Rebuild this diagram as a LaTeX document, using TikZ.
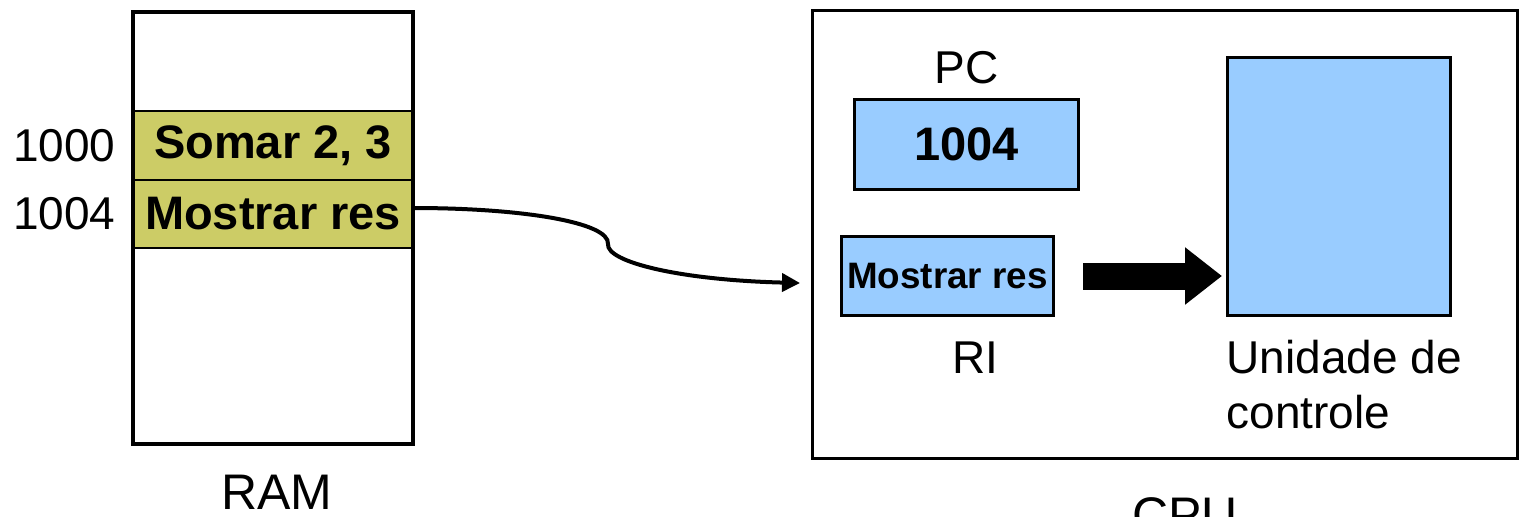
\documentclass[tikz,border=0pt]{standalone}
\usepackage{fontspec}
\setmainfont{Liberation Sans}
\usetikzlibrary{shapes,arrows,arrows.meta,positioning}

\definecolor{ramcell}{HTML}{CCCC66}
\definecolor{regblue}{HTML}{99CCFF}
\newcommand{\lblfont}{\fontsize{23}{27.5}\selectfont}
\newcommand{\titlefont}{\fontsize{25}{30}\selectfont}
\newcommand{\cellfont}{\bfseries\fontsize{23.5}{28}\selectfont}
\newcommand{\rifont}{\bfseries\fontsize{18.4}{22}\selectfont}

\begin{document}
\begin{tikzpicture}[x=0.5pt,y=-0.5pt,semithick]
\tikzstyle{cell}=[draw=black,line width=1pt,fill=ramcell,minimum width=140pt,inner sep=0pt,font=\cellfont]
\tikzstyle{reg}=[draw=black,line width=1.5pt,fill=regblue,inner sep=0pt]
\tikzstyle{lbl}=[inner sep=0pt,font=\lblfont]

\useasboundingbox (0,0) rectangle (1524,516);

% memoria
\node[cell,minimum height=34.5pt] (c1000) at (273,145.5) {Somar 2, 3};
\node[cell,minimum height=34pt]   (c1004) at (273,214)   {Mostrar res};
\node[draw,line width=2pt,minimum width=140pt,minimum height=216pt] (ram) at (273,228) {};
\node[lbl,left=8pt of c1000] (a1000) {1000};
\node[lbl,left=8pt of c1004] (a1004) {1004};
\node[lbl,font=\titlefont] (ramlbl) at (277,492) {RAM};

% processador
\node[draw,line width=1.5pt,minimum width=352.5pt,minimum height=224pt] (cpu) at (1165,234.5) {};
\node[reg,minimum width=112pt,minimum height=45pt,font=\cellfont] (pc) at (966.5,144.5) {1004};
\node[lbl,above=6.5pt of pc] (pclbl) {PC};
\node[reg,minimum width=106pt,minimum height=39.5pt,font=\rifont] (ri) at (947.5,276) {Mostrar res};
\node[lbl] (rilbl) at (975,358) {RI};
\node[reg,minimum width=111.5pt,minimum height=129pt] (uc) at (1339,186.5) {};
\node[lbl,align=left,anchor=north west] (uclbl) at (1226,340) {Unidade de\\controle};
\node[lbl,font=\titlefont] (cpulbl) at (1185,515) {CPU};

\coordinate (tip) at (800,283);

\draw[line width=2pt,-{Triangle[length=9pt,width=9pt]}] ([yshift=3pt]c1004.east)
  .. controls (520,208) and (610,222) .. (608,244)
  .. controls (606,262) and (680,280) .. (tip);
\draw[line width=13.5pt,-{Triangle[length=18.5pt,width=27.5pt]},shorten <=14pt,shorten >=2pt]
  (ri.east) -- (ri.east -| uc.west);
\end{tikzpicture}
\end{document}
